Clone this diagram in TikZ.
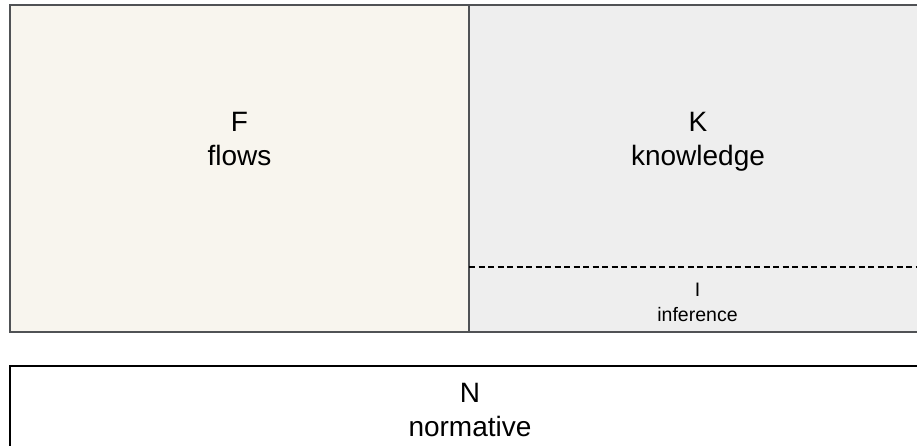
\documentclass[tikz,border=0pt]{standalone}
\usepackage{fontspec}
\setmainfont{Liberation Sans}
\usepackage{tikz}
\usetikzlibrary{positioning}
\definecolor{flowfill}{HTML}{F8F5EE}
\definecolor{knowfill}{HTML}{EEEEEE}
\definecolor{panelline}{HTML}{505255}
\tikzset{panel/.style={draw=panelline, line width=1.6pt, inner sep=0pt, outer sep=0pt, anchor=north west}, big label/.style={align=center, inner sep=0pt, anchor=north, font=\fontsize{28}{34}\selectfont}, small label/.style={align=center, inner sep=0pt, anchor=north, font=\fontsize{19.5}{25}\selectfont}}

\begin{document}
\begin{tikzpicture}[x=1pt, y=-1pt]
	\useasboundingbox (0,0) rectangle (917,445);
	\clip (0,0) rectangle (917,445);
	\node[panel, fill=flowfill, minimum width=459pt, minimum height=327pt] (Flows) at (10,5) {};
	\node[panel, fill=knowfill, minimum width=460pt, minimum height=327pt] (Knowledge) at (Flows.north east) {};
	\node[panel, draw=black, fill=white, minimum width=920pt, minimum height=90pt] (Normative) at (10,366) {};
	\coordinate (InfStart) at (469,267);
	\coordinate (InfEnd) at (930,267);
	\draw[black, line width=1.2pt, dash pattern=on 6pt off 3.5pt] (InfStart) -- (InfEnd);
	\node[big label] (FlowsText) at (239.5,112) {F\\flows};
	\node[big label] (KnowText) at (698,112) {K\\knowledge};
	\node[small label] (InfText) at (697.5,283) {I\\inference};
	\node[big label] (NormText) at (470,383) {N\\normative};
\end{tikzpicture}
\end{document}
